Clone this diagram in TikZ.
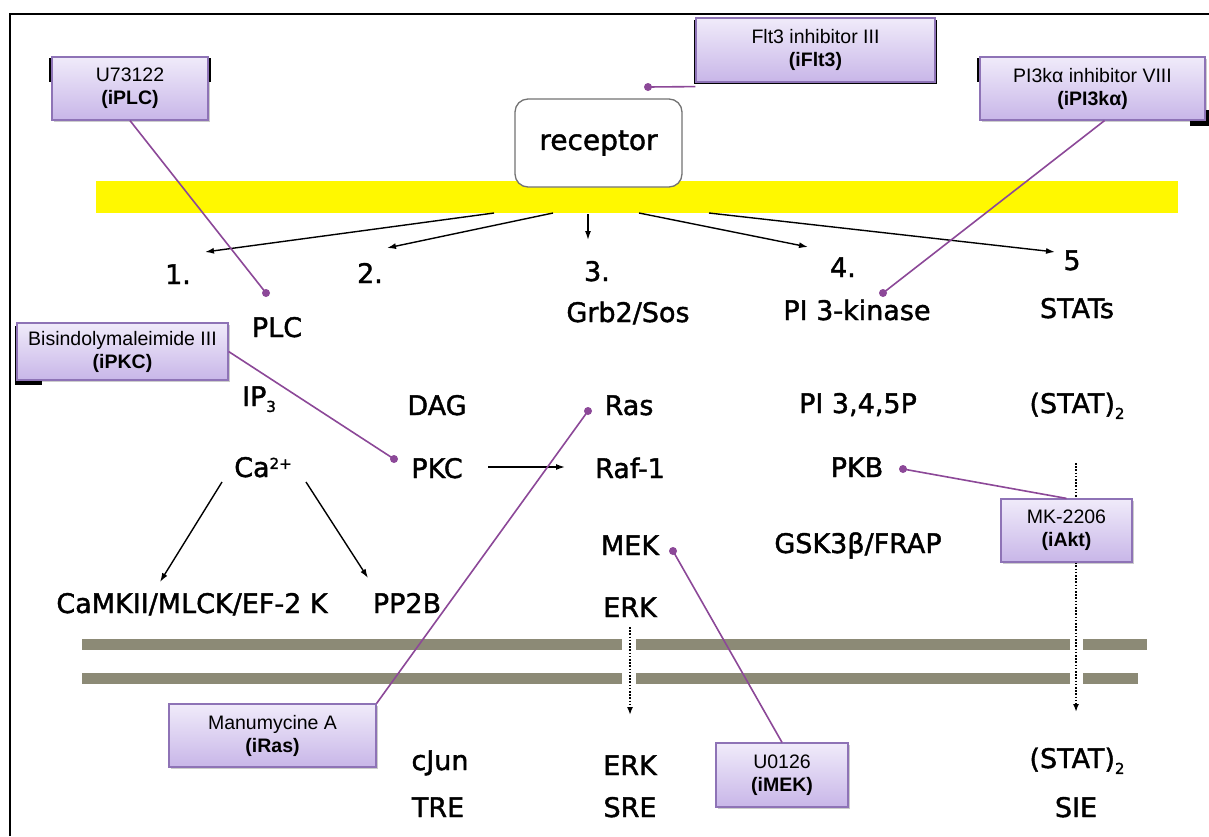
\documentclass[tikz,border=0pt]{standalone}
\usepackage{fontspec}
\newfontfamily\lblfont[FakeBold=1.5]{DejaVu Sans}
\newfontfamily\boxfont{Liberation Sans}
\usetikzlibrary{arrows.meta,shadows,calc}
\definecolor{yband}{RGB}{255,248,0}
\definecolor{gbar}{RGB}{140,138,118}
\definecolor{pk}{RGB}{140,72,152}
\definecolor{boxtop}{RGB}{240,235,250}
\definecolor{boxbot}{RGB}{200,182,232}
\definecolor{boxline}{RGB}{142,115,182}
\newcommand{\lsub}[1]{\raisebox{-0.4ex}{\fontsize{15}{15}\selectfont #1}}
\newcommand{\lsup}[1]{\raisebox{0.55ex}{\fontsize{15}{15}\selectfont #1}}
\begin{document}
\begin{tikzpicture}[x=1pt,y=-1pt,
 lbl/.style={font=\lblfont\fontsize{27}{30}\selectfont, inner sep=0pt, anchor=base},
 inhbox/.style={draw=boxline, line width=1.2pt, top color=boxtop, bottom color=boxbot,
   font=\boxfont\fontsize{19.5}{23}\selectfont, align=center, inner sep=0pt,
   drop shadow={shadow xshift=2pt,shadow yshift=-2pt,fill=black,opacity=0.2}},
 pkline/.style={draw=pk, line width=1.6pt},
 pdot/.style={circle, fill=pk, inner sep=0pt, minimum size=8pt},
 arr/.style={draw=black, line width=1.4pt, -{Latex[length=9pt,width=6pt]}},
 darr/.style={draw=black, line width=1.6pt, dash pattern=on 1.6pt off 1.6pt, -{Latex[length=8pt,width=6pt]}},
 memb/.style={fill=gbar},
 blk/.style={fill=black}
]
\useasboundingbox (0,0) rectangle (1209,836);
\fill[white] (0,0) rectangle (1209,836);
% frame
\draw[line width=2pt] (10,836) -- (10,14) -- (1209,14);
% yellow membrane band
\fill[fill=yband] (96,181) rectangle (1178,213);
% nuclear membrane bands
\fill[memb] (82,639) rectangle (622,650);
\fill[memb] (636,639) rectangle (1070,650);
\fill[memb] (1083,639) rectangle (1147,650);
\fill[memb] (82,673) rectangle (622,684);
\fill[memb] (636,673) rectangle (1070,684);
\fill[memb] (1083,673) rectangle (1138,684);
% receptor
\node[draw=black!55, line width=1.3pt, rounded corners=13pt, fill=white,
  minimum width=167pt, minimum height=88pt, inner sep=0pt,
  font=\lblfont\fontsize{28}{30}\selectfont] (rec) at (598.5,143) {receptor};
% labels
\node[lbl] (n1) at (178,284) {1.};
\node[lbl] (n2) at (370,283) {2.};
\node[lbl] (n3) at (597,281) {3.};
\node[lbl] (n4) at (843,277) {4.};
\node[lbl] (n5) at (1072,270) {5};
\node[lbl] (plc) at (277,337) {PLC};
\node[lbl] (grb) at (628,322) {Grb2/Sos};
\node[lbl] (pi3) at (857,320) {PI 3-kinase};
\node[lbl] (stats) at (1077,318) {STATs};
\node[lbl] (ip3) at (259,406) {IP\lsub{3}};
\node[lbl] (dag) at (437,415) {DAG};
\node[lbl] (ras) at (629,415) {Ras};
\node[lbl] (pip) at (858,413) {PI 3,4,5P};
\node[lbl] (stata) at (1077,413) {(STAT)\lsub{2}};
\node[lbl] (ca) at (263,477) {Ca\lsup{2+}};
\node[lbl] (pkc) at (437,478) {PKC};
\node[lbl] (raf) at (630,478) {Raf-1};
\node[lbl] (pkb) at (857,477) {PKB};
\node[lbl] (mek) at (630,555) {MEK};
\node[lbl] (gsk) at (858,553) {GSK3β/FRAP};
\node[lbl] (camk) at (192,613) {CaMKII/MLCK/EF-2 K};
\node[lbl] (pp2b) at (407,613) {PP2B};
\node[lbl] (erka) at (630,617) {ERK};
\node[lbl] (cjun) at (440,770) {cJun};
\node[lbl] (erkb) at (630,775) {ERK};
\node[lbl] (statb) at (1077,768) {(STAT)\lsub{2}};
\node[lbl] (tre) at (438,817) {TRE};
\node[lbl] (sre) at (630,817) {SRE};
\node[lbl] (sie) at (1076,817) {SIE};
% arrow end points
\coordinate (b1) at (494,213); \coordinate (t1) at (205,252);
\coordinate (b2) at (553,213); \coordinate (t2) at (387,248);
\coordinate (b3) at (588,214); \coordinate (t3) at (588,240);
\coordinate (b4) at (639,213); \coordinate (t4) at (808,247);
\coordinate (b5) at (709,213); \coordinate (t5) at (1055,252);
\coordinate (ca1) at (222,482); \coordinate (ca1t) at (160,582);
\coordinate (ca2) at (306,482); \coordinate (ca2t) at (368,578);
\coordinate (pkcs) at (488,467); \coordinate (raft) at (565,467);
\coordinate (erks) at (630,627); \coordinate (erkt) at (630,715);
\coordinate (stats2) at (1076,463); \coordinate (statt) at (1076,712);
\draw[arr] (b1) -- (t1);
\draw[arr] (b2) -- (t2);
\draw[arr] (b3) -- (t3);
\draw[arr] (b4) -- (t4);
\draw[arr] (b5) -- (t5);
\draw[arr] (ca1) -- (ca1t);
\draw[arr] (ca2) -- (ca2t);
\draw[arr] (pkcs) -- (raft);
\draw[darr] (erks) -- (erkt);
\draw[darr] (stats2) -- (statt);
% black remnants behind boxes
\fill[blk] (49,58) rectangle (211,82);
\fill[blk] (977,58) rectangle (1000,82);
\fill[blk] (1190,110) rectangle (1209,126);
\fill[blk] (15,326) rectangle (42,385);
\fill[blk] (694,20) rectangle (937,84);
% inhibitor boxes
\node[inhbox, minimum width=239pt, minimum height=64pt] (iflt) at (815.5,50) {Flt3 inhibitor III\\\textbf{(iFlt3)}};
\node[inhbox, minimum width=156pt, minimum height=63pt] (iplc) at (130,88.5) {U73122\\\textbf{(iPLC)}};
\node[inhbox, minimum width=225pt, minimum height=63pt] (ipi) at (1092.5,88.5) {PI3kα inhibitor VIII\\\textbf{(iPI3kα)}};
\node[inhbox, minimum width=211pt, minimum height=57pt] (ipkc) at (122.5,351.5) {Bisindolymaleimide III\\\textbf{(iPKC)}};
\node[inhbox, minimum width=131pt, minimum height=63pt] (iakt) at (1066.5,530.5) {MK-2206\\\textbf{(iAkt)}};
\node[inhbox, minimum width=207pt, minimum height=63pt] (iras) at (272.5,735.5) {Manumycine A\\\textbf{(iRas)}};
\node[inhbox, minimum width=132pt, minimum height=64pt] (imek) at (782,775) {U0126\\\textbf{(iMEK)}};
% target dots
\node[pdot] (dflt) at (648,87) {};
\node[pdot] (dplc) at (266,293) {};
\node[pdot] (dpi) at (883,293) {};
\node[pdot] (dpkc) at (394,459) {};
\node[pdot] (dras) at (588,411) {};
\node[pdot] (dmek) at (673,551) {};
\node[pdot] (dakt) at (903,469) {};
% inhibitor connectors
\draw[pkline] ([yshift=-4pt]iflt.south west) -- (dflt.center);
\draw[pkline] (iplc.south) -- (dplc.center);
\draw[pkline] ([xshift=12pt]ipi.south) -- (dpi.center);
\draw[pkline] (ipkc.east) -- (dpkc.center);
\draw[pkline] (iakt.north) -- (dakt.center);
\draw[pkline] (iras.north east) -- (dras.center);
\draw[pkline] (imek.north) -- (dmek.center);
\end{tikzpicture}
\end{document}
